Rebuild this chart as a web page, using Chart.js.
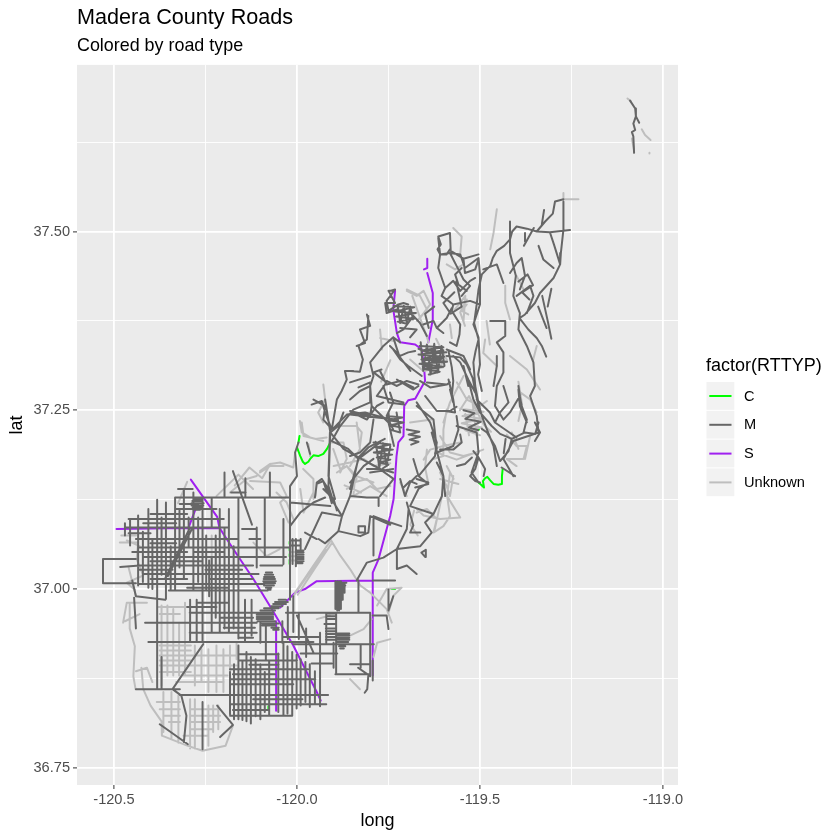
<!DOCTYPE html>
<html><head><meta charset="utf-8">
<style>html,body{margin:0;padding:0;background:#fff}canvas{display:block}</style>
<script src="https://cdn.jsdelivr.net/npm/chart.js@4/dist/chart.umd.min.js"></script>
</head><body><canvas id="c" width="840" height="840"></canvas>
<script>
const chartTitle="Madera County Roads", chartSubtitle="Colored by road type";
const xTicks=[-120.5,-120.25,-120,-119.75,-119.5,-119.25,-119];
const yTicks=[36.75,36.875,37,37.125,37.25,37.375,37.5,37.625];
const roadTypes=["C","M","S","Unknown"];
// Each road: flat list long,lat,long,lat...
const roadsC=[
[-119.504,37.149,-119.497,37.146,-119.489,37.142,-119.492,37.151,-119.486,37.155,-119.480,37.157,-119.472,37.152,-119.463,37.147,-119.450,37.146,-119.441,37.147,-119.440,37.158,-119.438,37.168],
[-119.507,37.226,-119.503,37.223],
[-119.993,37.214,-119.996,37.205],
[-120.000,37.198,-119.991,37.186,-119.984,37.178,-119.978,37.175,-119.969,37.178,-119.964,37.182,-119.955,37.187,-119.942,37.186,-119.928,37.189,-119.918,37.196,-119.911,37.203],
[-120.020,37.066,-120.020,37.063],[-120.020,37.058,-120.020,37.054],[-120.020,37.049,-120.020,37.046],[-120.020,37.041,-120.020,37.035],
[-119.741,37.000,-119.732,37.000],[-120.078,36.836,-120.078,36.831]];
const roadsS=[
[-120.290,37.153,-120.218,37.101,-120.212,37.086,-120.201,37.077,-120.165,37.049,-120.119,37.014,-120.069,36.972,-120.010,36.921,-119.946,36.856,-119.935,36.844],
[-120.493,37.084,-120.350,37.085,-120.210,37.085],
[-120.297,37.085,-120.274,37.116],
[-120.057,36.955,-120.057,36.830],
[-120.046,36.974,-120.005,36.995,-119.978,37.000,-119.946,37.011,-119.793,37.012],
[-119.793,36.879,-119.793,37.023,-119.777,37.042,-119.745,37.103,-119.736,37.126,-119.732,37.156,-119.728,37.186,-119.723,37.205,-119.709,37.214,-119.707,37.256,-119.696,37.264,-119.677,37.266,-119.650,37.291],
[-119.650,37.291,-119.653,37.312,-119.659,37.335,-119.677,37.342,-119.718,37.345,-119.727,37.358,-119.737,37.391,-119.732,37.417],
[-119.644,37.462,-119.644,37.449,-119.653,37.447,-119.644,37.449],
[-119.644,37.442,-119.629,37.414,-119.629,37.377,-119.641,37.345]];
// North-south roads: long, lat from, lat to
const roadsM_ns=[
[-120.456,37.098,37.061],[-120.434,37.103,37.005],[-120.406,37.112,37.002],[-120.382,37.125,36.860],[-120.358,37.121,36.986],[-120.333,37.128,36.998],[-120.309,37.140,37.015],[-120.283,37.135,36.998],[-120.258,37.128,36.926],[-120.233,37.128,37.086],[-120.233,37.045,36.939],[-120.211,37.112,36.939],[-120.186,37.112,36.939],[-120.160,37.128,36.931],[-120.198,37.163,37.128],[-120.141,37.155,37.128],[-120.074,37.163,37.128],[-120.088,37.128,37.045],[-120.110,37.086,37.030],[-120.037,37.098,37.035],[-120.019,37.128,36.985],
[-120.470,37.092,37.075],[-120.222,37.075,36.960],[-120.198,37.085,36.945],[-120.173,37.060,36.945],[-120.240,37.040,36.990],[-120.296,37.100,37.060],
[-120.421,37.080,37.010],[-120.395,37.070,37.000],[-120.370,37.100,37.020],[-120.345,37.060,37.000],[-120.321,37.110,37.030],[-120.270,37.100,37.010],[-120.248,37.075,37.000],
[-120.292,36.985,36.926],[-120.274,36.985,36.926],[-120.142,36.985,36.926],[-120.124,36.985,36.935],
[-120.183,36.884,36.825],[-120.172,36.895,36.818],[-120.160,36.921,36.818],[-120.149,36.900,36.817],[-120.138,36.912,36.815],[-120.126,36.905,36.812],[-120.113,36.902,36.822],[-120.100,36.895,36.818],[-120.088,36.884,36.828],[-120.076,36.900,36.823],[-120.051,36.910,36.828],[-120.037,36.926,36.823],[-120.026,36.920,36.826],[-120.013,36.912,36.823],[-120.001,36.908,36.833],[-119.990,36.902,36.837],[-119.977,36.898,36.842],[-119.965,36.895,36.835],[-119.951,36.885,36.840],[-119.937,36.875,36.836],
[-120.100,36.955,36.925],[-120.085,36.950,36.900],[-120.040,36.955,36.925],[-120.025,36.975,36.930],[-120.010,36.990,36.940],[-119.995,36.965,36.930],[-119.975,36.945,36.905],
[-119.937,36.939,36.856],[-119.893,36.967,36.881],[-119.832,37.012,36.967],[-119.826,36.923,36.890],[-119.800,36.967,36.878],[-119.920,36.967,36.925],[-119.900,36.925,36.890],[-119.793,36.900,36.872],
[-120.258,36.842,36.776],[-120.370,36.905,36.860],[-120.003,37.070,37.032],[-120.012,37.070,37.035],[-119.990,37.070,37.056],
[-119.895,37.011,36.972],[-119.890,37.011,36.970],[-119.885,37.011,36.970],[-119.880,37.011,36.972],[-119.875,37.009,36.985],[-119.870,37.007,36.995]];
// East-west roads: lat, long from, long to
const roadsM_ew=[
[37.128,-120.333,-120.019],[37.098,-120.460,-120.200],[37.086,-120.470,-120.190],[37.070,-120.440,-120.160],[37.058,-120.430,-120.150],[37.045,-120.420,-120.140],[37.033,-120.430,-120.120],[37.021,-120.420,-120.105],[37.007,-120.430,-120.090],[36.998,-120.350,-120.080],[37.112,-120.330,-120.220],[37.078,-120.460,-120.400],[37.052,-120.280,-120.200],[37.027,-120.250,-120.150],[37.014,-120.240,-120.120],[37.105,-120.400,-120.300],[37.119,-120.320,-120.270],[37.140,-120.325,-120.285],[37.135,-120.180,-120.140],
[37.092,-120.420,-120.330],[37.064,-120.400,-120.330],[37.052,-120.450,-120.300],[37.039,-120.400,-120.260],[37.027,-120.430,-120.340],[37.014,-120.400,-120.300],[37.002,-120.300,-120.190],[36.975,-120.300,-120.220],
[37.058,-120.150,-120.019],[37.045,-120.140,-120.030],[37.070,-120.130,-120.100],[37.084,-120.150,-120.110],[37.033,-120.100,-120.040],
[36.967,-120.293,-120.105],[36.953,-120.415,-120.110],[36.939,-120.293,-120.110],[36.926,-120.406,-119.955],[36.981,-120.270,-120.190],[36.960,-120.210,-120.120],[36.946,-120.200,-120.115],[36.932,-120.160,-120.120],
[36.900,-120.160,-120.000],[36.888,-120.183,-119.970],[36.874,-120.183,-119.950],[36.860,-120.440,-120.320],[36.852,-120.320,-119.915],[36.839,-120.183,-119.920],[36.823,-120.183,-120.013],[36.881,-120.175,-120.060],[36.867,-120.180,-120.010],[36.846,-120.120,-119.985],[36.909,-120.160,-120.050],[36.894,-120.130,-120.050],[36.831,-120.175,-120.080],
[36.967,-120.030,-119.800],[36.923,-120.010,-119.790],[36.881,-119.895,-119.800],[36.895,-119.855,-119.800],[36.933,-120.040,-119.940],[36.910,-119.990,-119.890],[36.896,-119.960,-119.905],[36.951,-119.925,-119.893],
[37.126,-120.283,-120.262],[37.123,-120.286,-120.258],[37.120,-120.288,-120.255],[37.117,-120.288,-120.256],[37.114,-120.285,-120.260],[37.111,-120.280,-120.265],
[37.023,-120.085,-120.068],[37.020,-120.088,-120.065],[37.017,-120.090,-120.062],[37.014,-120.091,-120.060],[37.011,-120.092,-120.058],[37.008,-120.091,-120.060],[37.005,-120.090,-120.063],[37.002,-120.085,-120.070],[36.999,-120.080,-120.072],
[36.985,-120.050,-120.030],[36.982,-120.060,-120.025],[36.979,-120.065,-120.030],[36.976,-120.070,-120.040],[36.973,-120.090,-120.050],[36.970,-120.100,-120.060],[36.967,-120.105,-120.065],[36.964,-120.110,-120.065],[36.961,-120.110,-120.065],[36.958,-120.110,-120.065],[36.955,-120.108,-120.060],[36.952,-120.100,-120.050],[36.949,-120.095,-120.060],[36.946,-120.070,-120.050],[36.943,-120.065,-120.050],
[36.938,-119.891,-119.857],[36.935,-119.893,-119.857],[36.932,-119.893,-119.857],[36.929,-119.893,-119.857],[36.926,-119.893,-119.860],[36.923,-119.890,-119.862],[36.920,-119.885,-119.868],[36.917,-119.882,-119.872],
[37.054,-120.000,-119.982],[37.051,-120.000,-119.982],[37.048,-120.000,-119.982],[37.045,-120.000,-119.982],[37.042,-120.000,-119.982],[37.039,-120.000,-119.982],[37.036,-120.000,-119.985],[37.068,-120.018,-119.990],[37.061,-120.018,-119.990],
[37.009,-119.895,-119.865],[37.005,-119.895,-119.868],[37.001,-119.895,-119.872],[36.997,-119.895,-119.878],[36.993,-119.895,-119.880],[36.989,-119.895,-119.880],[36.985,-119.895,-119.878],[36.981,-119.893,-119.880],[36.977,-119.892,-119.882],[36.973,-119.892,-119.884],
[36.966,-119.920,-119.893],[36.962,-119.920,-119.893],[36.958,-119.920,-119.893],[36.945,-119.921,-119.893],[36.941,-119.921,-119.893],[36.937,-119.921,-119.893],[36.933,-119.921,-119.893],[36.929,-119.921,-119.893]];
const roadsM=[
[-120.530,37.042,-120.530,37.008,-120.440,37.008],[-120.530,37.042,-120.440,37.042],[-120.483,37.031,-120.430,37.033],
[-120.175,37.165,-120.123,37.090],[-120.293,37.085,-120.360,37.015],[-120.286,37.085,-120.353,37.018],
[-120.256,36.923,-120.340,36.860,-120.316,36.851,-120.302,36.823,-120.309,36.786],[-120.375,36.811,-120.298,36.783],[-120.218,36.837,-120.175,36.810,-120.210,36.793],
[-120.445,36.988,-120.440,36.945],[-120.45,37.012,-120.44,36.990,-120.36,36.985],
[-119.254,37.502,-119.309,37.499,-119.345,37.500,-119.372,37.504,-119.400,37.507,-119.412,37.500,-119.418,37.489,-119.434,37.480,-119.454,37.473,-119.465,37.463,-119.472,37.452,-119.495,37.440,-119.504,37.419,-119.509,37.398,-119.516,37.372,-119.504,37.349,-119.512,37.333,-119.518,37.317,-119.513,37.284,-119.504,37.260,-119.495,37.242,-119.480,37.222,-119.463,37.200,-119.454,37.172],
[-119.345,37.500,-119.309,37.499,-119.298,37.482,-119.281,37.454,-119.299,37.435,-119.336,37.414,-119.350,37.400,-119.377,37.384,-119.392,37.379,-119.368,37.363,-119.345,37.351,-119.331,37.340,-119.319,37.325],
[-119.272,37.545,-119.295,37.542,-119.301,37.525,-119.322,37.514,-119.345,37.500],
[-119.272,37.542,-119.272,37.503,-119.279,37.470,-119.281,37.454],
[-119.340,37.480,-119.327,37.461,-119.299,37.449],[-119.325,37.530,-119.331,37.510],[-119.353,37.505,-119.380,37.480],
[-119.418,37.514,-119.418,37.470,-119.402,37.438,-119.409,37.410,-119.391,37.386,-119.395,37.363,-119.372,37.340,-119.354,37.317,-119.350,37.284,-119.363,37.270,-119.345,37.242,-119.340,37.219,-119.368,37.214,-119.409,37.207,-119.436,37.182,-119.409,37.158],
[-119.472,37.375,-119.431,37.375,-119.431,37.354,-119.454,37.345,-119.436,37.331,-119.436,37.303,-119.454,37.284,-119.459,37.256,-119.436,37.237,-119.418,37.247,-119.391,37.270,-119.395,37.284],
[-119.614,37.491,-119.609,37.468,-119.582,37.470,-119.554,37.468,-119.541,37.449,-119.504,37.463,-119.500,37.440,-119.500,37.398,-119.518,37.370,-119.504,37.352,-119.500,37.314,-119.505,37.300,-119.495,37.277],
[-119.614,37.493,-119.582,37.498,-119.580,37.473,-119.545,37.462,-119.504,37.468],
[-119.609,37.468,-119.614,37.449,-119.595,37.421,-119.573,37.431,-119.554,37.417,-119.527,37.431,-119.513,37.435],
[-119.595,37.421,-119.605,37.410,-119.573,37.398,-119.577,37.389,-119.554,37.370,-119.556,37.356,-119.564,37.340,-119.582,37.345],
[-119.550,37.449,-119.568,37.440,-119.559,37.426,-119.536,37.417],[-119.573,37.398,-119.527,37.403,-119.500,37.398],
[-119.618,37.365,-119.591,37.379,-119.577,37.393],[-119.655,37.370,-119.627,37.375,-119.618,37.365,-119.600,37.358],
[-119.586,37.333,-119.577,37.310,-119.573,37.291,-119.577,37.270,-119.573,37.261],[-119.591,37.326,-119.554,37.324,-119.536,37.314,-119.520,37.295,-119.513,37.277,-119.500,37.247],
[-119.746,37.417,-119.732,37.419,-119.755,37.403,-119.750,37.389,-119.723,37.398,-119.709,37.400,-119.696,37.398],
[-119.746,37.340,-119.718,37.326,-119.696,37.331,-119.677,37.333],[-119.718,37.365,-119.673,37.363,-119.691,37.352],
[-119.773,37.305,-119.755,37.286,-119.718,37.291,-119.682,37.282],[-119.664,37.291,-119.636,37.282,-119.591,37.286],
[-119.855,37.305,-119.828,37.304,-119.820,37.321,-119.832,37.340,-119.809,37.349,-119.805,37.382],
[-119.800,37.317,-119.764,37.340,-119.737,37.352,-119.718,37.345],[-119.737,37.352,-119.720,37.325,-119.690,37.305],
[-119.800,37.317,-119.791,37.298,-119.800,37.284,-119.828,37.277,-119.855,37.265],
[-119.800,37.284,-119.796,37.256,-119.800,37.242,-119.855,37.249],[-119.796,37.256,-119.750,37.233,-119.735,37.200],
[-119.764,37.284,-119.750,37.261,-119.707,37.258],[-119.727,37.293,-119.682,37.279,-119.668,37.284],
[-119.650,37.270,-119.618,37.249,-119.582,37.249,-119.564,37.255],
[-119.673,37.261,-119.636,37.233,-119.618,37.205,-119.623,37.186,-119.668,37.158,-119.641,37.147,-119.677,37.142],
[-119.623,37.190,-119.573,37.200,-119.559,37.223,-119.564,37.242],[-119.618,37.177,-119.600,37.158,-119.595,37.130],
[-119.564,37.228,-119.509,37.219,-119.504,37.191,-119.523,37.163,-119.504,37.149],
[-119.923,37.265,-119.909,37.219,-119.914,37.144,-119.900,37.121,-119.877,37.102,-119.887,37.081,-119.923,37.064,-119.941,37.070],
[-120.019,37.088,-119.991,37.107,-119.955,37.121,-119.923,37.128],[-119.978,37.056,-119.932,37.107,-119.877,37.102],
[-119.887,37.081,-119.827,37.074,-119.805,37.079,-119.800,37.102,-119.745,37.090],
[-119.877,37.102,-119.855,37.130,-119.809,37.128,-119.777,37.128,-119.777,37.116],
[-119.855,37.130,-119.832,37.184,-119.805,37.198,-119.760,37.210],[-119.909,37.219,-119.873,37.196,-119.832,37.184],
[-119.900,37.225,-119.864,37.244,-119.814,37.247,-119.745,37.237],
[-120.019,37.126,-120.019,37.144,-120.000,37.158,-120.005,37.191,-119.996,37.205],[-120.019,37.121,-119.909,37.116],
[-119.950,37.130,-119.946,37.149,-119.932,37.154,-119.917,37.142,-119.905,37.120],
[-119.837,37.012,-119.809,37.037,-119.764,37.044,-119.727,37.056,-119.700,37.084,-119.695,37.112,-119.700,37.121],
[-119.791,37.047,-119.791,37.098],[-119.791,37.102,-119.745,37.093,-119.715,37.088],
[-119.727,37.056,-119.663,37.060,-119.632,37.079,-119.650,37.093,-119.627,37.105,-119.691,37.116,-119.668,37.140,-119.641,37.149,-119.673,37.154],
[-119.632,37.219,-119.618,37.193,-119.600,37.158,-119.604,37.130,-119.627,37.105],
[-119.727,37.056,-119.727,37.028,-119.700,37.033,-119.673,37.021],[-119.793,37.012,-119.732,37.012],
[-119.750,36.999,-119.750,36.970,-119.737,36.990],[-119.793,36.963,-119.755,36.963,-119.750,36.944],
[-120.000,36.963,-119.955,36.911],[-119.833,36.890,-119.805,36.880,-119.808,36.860,-119.815,36.855],
[-119.660,37.051,-119.650,37.045,-119.648,37.055,-119.660,37.051],
[-119.614,37.493,-119.607,37.482,-119.616,37.475,-119.609,37.468,-119.591,37.468,-119.582,37.475],
[-119.545,37.461,-119.541,37.442,-119.513,37.447,-119.504,37.461],
[-119.582,37.470,-119.564,37.452,-119.545,37.433,-119.527,37.424,-119.550,37.410],
[-119.809,37.384,-119.800,37.368,-119.828,37.363,-119.814,37.344,-119.837,37.340],
[-119.737,37.417,-119.750,37.417,-119.732,37.400,-119.759,37.400,-119.755,37.386,-119.727,37.391],
[-119.727,37.358,-119.709,37.363,-119.682,37.382,-119.664,37.372,-119.645,37.354],
[-119.737,37.335,-119.718,37.321,-119.696,37.312,-119.659,37.298],
[-119.591,37.335,-119.545,37.326,-119.527,37.307],
[-119.573,37.326,-119.554,37.317,-119.532,37.293,-119.513,37.275],
[-119.645,37.289,-119.591,37.286,-119.582,37.289],[-119.582,37.279,-119.573,37.261],
[-119.855,37.289,-119.800,37.298],
[-119.746,37.275,-119.737,37.261,-119.755,37.242,-119.737,37.223],
[-119.855,37.186,-119.828,37.191,-119.800,37.205,-119.791,37.237],
[-119.855,37.149,-119.818,37.172,-119.791,37.182],[-119.800,37.163,-119.737,37.168],
[-119.718,37.154,-119.705,37.130,-119.691,37.149,-119.673,37.158],
[-119.454,37.326,-119.454,37.312,-119.463,37.284],
[-119.509,37.265,-119.473,37.247,-119.459,37.233,-119.400,37.212],
[-119.395,37.279,-119.391,37.256,-119.372,37.233],[-119.350,37.233,-119.336,37.219,-119.350,37.207],
[-119.418,37.442,-119.400,37.456,-119.386,37.463,-119.377,37.438,-119.391,37.419],
[-119.377,37.498,-119.377,37.486],[-119.491,37.447,-119.454,37.454,-119.436,37.428],
[-119.400,37.410,-119.363,37.424,-119.354,37.410,-119.372,37.386],[-119.545,37.312,-119.532,37.284],
[-119.955,37.265,-119.923,37.256,-119.928,37.237,-119.909,37.226],[-119.873,37.247,-119.887,37.228,-119.909,37.219],
[-119.850,37.247,-119.809,37.237,-119.782,37.256,-119.764,37.261],
[-119.832,37.184,-119.780,37.170,-119.736,37.154,-119.773,37.130],
[-119.673,37.256,-119.627,37.237,-119.618,37.196],[-119.682,37.182,-119.668,37.158],
[-119.695,37.112,-119.682,37.089,-119.691,37.079,-119.663,37.079],
[-119.978,37.079,-119.946,37.070],[-119.928,37.140,-119.900,37.126,-119.891,37.110],
[-119.832,37.088,-119.814,37.088,-119.814,37.079,-119.832,37.079,-119.832,37.088],
// traced from central close-ups
[-119.960,37.258,-119.932,37.263,-119.923,37.247,-119.905,37.223],
[-119.905,37.223,-119.891,37.265,-119.878,37.277,-119.864,37.293,-119.869,37.305,-119.846,37.305],
[-119.905,37.207,-119.882,37.228,-119.846,37.251,-119.800,37.261,-119.800,37.289,-119.832,37.282],
[-119.855,37.244,-119.819,37.242,-119.782,37.240,-119.728,37.237],
[-119.905,37.207,-119.860,37.196,-119.832,37.182,-119.796,37.196,-119.773,37.205],
[-119.832,37.182,-119.855,37.140],[-119.910,37.219,-119.914,37.158,-119.896,37.126],
[-119.973,37.205,-119.964,37.189],[-119.951,37.128,-119.946,37.147,-119.928,37.151,-119.919,37.137,-119.910,37.130],
[-119.809,37.168,-119.773,37.168,-119.737,37.163],[-119.709,37.142,-119.691,37.151,-119.673,37.147],
[-119.709,37.261,-119.782,37.270,-119.755,37.289,-119.791,37.303,-119.769,37.307],
[-119.755,37.291,-119.728,37.284,-119.700,37.291,-119.668,37.286],
[-119.750,37.247,-119.746,37.223,-119.718,37.219,-119.728,37.247],
[-119.586,37.293,-119.573,37.265,-119.568,37.247,-119.595,37.249],
[-119.532,37.293,-119.518,37.265,-119.500,37.247,-119.468,37.228,-119.445,37.217,-119.413,37.210,-119.377,37.219,-119.349,37.217,-119.340,37.233],
[-119.436,37.284,-119.422,37.261,-119.445,37.247,-119.459,37.233],
[-119.395,37.279,-119.386,37.256,-119.372,37.237,-119.381,37.219],
[-119.413,37.210,-119.422,37.193,-119.445,37.179,-119.459,37.200,-119.481,37.219,-119.495,37.224],
[-119.441,37.170,-119.404,37.158],
[-119.518,37.193,-119.504,37.184,-119.513,37.168,-119.527,37.158,-119.513,37.151,-119.500,37.149],
[-119.504,37.184,-119.486,37.168,-119.490,37.158],
[-119.609,37.195,-119.573,37.195,-119.550,37.205,-119.554,37.216],[-119.563,37.172,-119.541,37.175,-119.522,37.184],
// dense mountain clusters
[-119.665,37.340,-119.600,37.338,-119.655,37.334,-119.592,37.331,-119.668,37.328,-119.598,37.325,-119.660,37.321,-119.590,37.318,-119.665,37.315,-119.600,37.311,-119.655,37.308,-119.610,37.304,-119.640,37.300],
[-119.662,37.345,-119.655,37.305,-119.645,37.342,-119.635,37.300,-119.625,37.343,-119.615,37.303,-119.605,37.340,-119.597,37.312],
[-119.668,37.336,-119.640,37.330,-119.600,37.334,-119.650,37.322,-119.605,37.322,-119.650,37.312,-119.615,37.308],
[-119.736,37.396,-119.680,37.394,-119.733,37.388,-119.675,37.386,-119.730,37.381,-119.680,37.378,-119.725,37.374,-119.700,37.371],
[-119.725,37.397,-119.718,37.372,-119.708,37.396,-119.700,37.373,-119.690,37.395,-119.683,37.377],
[-119.791,37.205,-119.745,37.202,-119.785,37.198,-119.738,37.195,-119.790,37.191,-119.740,37.188,-119.782,37.184,-119.745,37.181,-119.775,37.177,-119.750,37.174,-119.765,37.169],
[-119.785,37.206,-119.775,37.170,-119.765,37.204,-119.755,37.172,-119.745,37.200],
[-119.700,37.223,-119.666,37.220,-119.695,37.216,-119.664,37.213,-119.692,37.209,-119.668,37.206,-119.688,37.202],
[-119.755,37.242,-119.712,37.240,-119.750,37.236,-119.709,37.233,-119.745,37.229,-119.715,37.226],
[-119.545,37.250,-119.515,37.246,-119.540,37.238,-119.498,37.234,-119.530,37.226,-119.505,37.222],
[-119.435,37.190,-119.430,37.210],[-119.395,37.430,-119.370,37.440,-119.355,37.425,-119.385,37.415,-119.365,37.405],
[-119.330,37.410,-119.315,37.375,-119.305,37.350],[-119.341,37.395,-119.318,37.365],[-119.305,37.420,-119.315,37.395],
[-119.570,37.415,-119.600,37.400,-119.580,37.385,-119.550,37.395,-119.565,37.430],[-119.625,37.395,-119.650,37.385,-119.640,37.365],
[-119.090,37.683,-119.076,37.672,-119.074,37.661,-119.065,37.652],[-119.074,37.661,-119.081,37.651,-119.076,37.642,-119.085,37.639,-119.081,37.633,-119.079,37.610]];
const roadsU_ns=[
[-120.370,36.977,36.865],[-120.354,36.977,36.879],[-120.338,36.972,36.879],[-120.322,36.953,36.879],[-120.306,36.981,36.879],[-120.279,36.921,36.865],[-120.261,36.916,36.870],[-120.242,36.916,36.856],[-120.220,36.921,36.856],[-120.201,36.916,36.856],[-120.183,36.921,36.884],[-120.165,36.926,36.902],
[-120.292,36.846,36.777],[-120.279,36.846,36.777],[-120.242,36.837,36.781],[-120.229,36.837,36.800],[-120.215,36.837,36.804],[-120.365,36.856,36.800],[-120.343,36.856,36.791],[-120.324,36.851,36.785],[-120.233,37.075,37.020],[-120.221,37.060,37.000]];
const roadsU_ew=[
[36.921,-120.375,-120.290],[36.914,-120.375,-120.290],[36.907,-120.375,-120.290],[36.900,-120.375,-120.290],[36.893,-120.375,-120.290],[36.884,-120.375,-120.290],
[36.907,-120.292,-120.165],[36.893,-120.292,-120.165],[36.879,-120.310,-120.190],[36.870,-120.330,-120.200],
[36.842,-120.383,-120.320],[36.832,-120.375,-120.320],[36.823,-120.365,-120.320],[36.814,-120.350,-120.320],
[36.832,-120.292,-120.210],[36.823,-120.292,-120.210],[36.814,-120.292,-120.210],[36.804,-120.292,-120.230],[36.795,-120.310,-120.245],
[36.975,-120.380,-120.300],[36.965,-120.375,-120.320],[37.075,-120.480,-120.440],[37.052,-120.020,-120.000],[37.046,-120.020,-120.000],[37.040,-120.020,-120.000]];
const roadsU=[
[-120.475,36.953,-120.465,36.981,-120.410,36.981],[-120.457,36.979,-120.457,36.945,-120.443,36.920,-120.447,36.878,-120.441,36.860],[-120.425,36.890,-120.420,36.860,-120.400,36.837,-120.370,36.815,-120.369,36.795,-120.300,36.781,-120.258,36.774,-120.195,36.781,-120.175,36.809],
[-120.440,36.885,-120.410,36.890,-120.395,36.870],[-120.470,36.955,-120.430,36.965],[-120.460,37.030,-120.445,37.000,-120.440,36.990],[-120.465,37.068,-120.430,37.060],
[-120.484,37.065,-120.434,37.065,-120.438,37.042,-120.420,37.019,-120.465,37.009,-120.443,36.999],
[-120.300,37.150,-120.325,37.120],[-120.170,37.145,-120.130,37.170,-120.095,37.155,-120.073,37.175],[-120.220,37.130,-120.160,37.160,-120.120,37.140],
[-120.183,37.135,-120.138,37.154,-120.110,37.158],[-120.101,37.163,-120.074,37.172,-120.037,37.172],[-120.056,37.135,-120.028,37.121,-120.010,37.098],[-120.119,37.065,-120.083,37.046,-120.047,37.056],
[-120.101,37.165,-120.073,37.175,-120.046,37.177,-120.010,37.170,-120.005,37.191],
[-119.987,37.233,-119.982,37.214,-119.950,37.210,-119.919,37.212],[-119.969,37.203,-119.964,37.186],
[-120.128,37.151,-120.046,37.149,-120.028,37.130,-120.046,37.121,-120.023,37.093],
[-119.991,37.140,-119.982,37.107,-119.955,37.135],[-119.900,37.172,-119.855,37.177,-119.818,37.182],[-119.882,37.163,-119.864,37.182,-119.873,37.205],
[-119.891,37.163,-119.864,37.172,-119.837,37.154,-119.846,37.144,-119.864,37.140],[-119.909,37.205,-119.873,37.205],[-119.718,37.149,-119.700,37.130],
[-119.846,37.149,-119.809,37.154,-119.782,37.140,-119.745,37.144],[-119.818,37.182,-119.790,37.172,-119.745,37.176],[-119.870,37.145,-119.825,37.135],
[-119.673,37.112,-119.654,37.103,-119.609,37.098,-119.554,37.100],[-119.645,37.195,-119.650,37.170,-119.642,37.150],[-119.582,37.162,-119.590,37.130,-119.554,37.100],[-119.604,37.130,-119.625,37.080],[-119.680,37.110,-119.690,37.090,-119.670,37.075],
[-119.673,37.107,-119.645,37.112,-119.618,37.098,-119.627,37.079,-119.600,37.088,-119.582,37.102,-119.591,37.135],[-119.572,37.154,-119.591,37.172],[-119.654,37.181,-119.636,37.195,-119.600,37.200,-119.554,37.205],
[-120.005,36.995,-119.955,37.033,-119.909,37.067],[-119.998,36.992,-119.950,37.030,-119.905,37.064],[-120.010,36.990,-119.960,37.027,-119.920,37.055],
[-119.909,37.070,-119.882,37.047,-119.855,37.028,-119.827,37.005,-119.800,36.995,-119.755,36.972,-119.741,36.953],
[-119.855,36.935,-119.818,36.944,-119.796,36.958],[-119.781,36.977,-119.755,37.000,-119.714,37.002,-119.736,36.991,-119.750,36.967],
[-119.946,36.958,-119.910,36.963],[-119.745,36.930,-119.781,36.925,-119.791,36.905],[-119.855,36.874,-119.828,36.860],
[-119.454,37.531,-119.463,37.498,-119.472,37.475],[-119.573,37.505,-119.550,37.493,-119.554,37.468],[-119.272,37.554,-119.272,37.545,-119.231,37.545],
[-119.431,37.424,-119.431,37.400,-119.418,37.377],[-119.486,37.349,-119.491,37.330,-119.454,37.312],[-119.418,37.326,-119.372,37.307,-119.336,37.279],[-119.395,37.290,-119.385,37.258,-119.395,37.235],
[-119.700,37.419,-119.664,37.410,-119.645,37.391,-119.672,37.375],[-119.591,37.251,-119.600,37.223,-119.600,37.186,-119.627,37.182],[-119.618,37.191,-119.564,37.181,-119.491,37.195],
[-119.427,37.216,-119.400,37.200,-119.372,37.200,-119.381,37.182,-119.427,37.182,-119.400,37.172],[-119.773,37.363,-119.768,37.335],[-119.691,37.233,-119.632,37.237],
[-119.837,37.233,-119.828,37.196,-119.855,37.172],[-119.609,37.154,-119.559,37.147],[-119.570,37.390,-119.540,37.410,-119.545,37.375],
[-119.555,37.250,-119.530,37.270,-119.490,37.230,-119.470,37.220],[-119.540,37.245,-119.530,37.215],[-119.520,37.260,-119.510,37.215],
[-119.536,37.405,-119.554,37.387,-119.541,37.368],[-119.400,37.438,-119.381,37.419],[-119.600,37.233,-119.582,37.261,-119.545,37.298],
[-119.345,37.340,-119.355,37.320],[-119.620,37.350,-119.590,37.320,-119.630,37.305],[-119.685,37.410,-119.640,37.345],[-119.770,37.290,-119.745,37.320],
[-119.700,37.417,-119.673,37.410,-119.654,37.417,-119.636,37.398,-119.664,37.379],[-119.591,37.454,-119.568,37.447,-119.545,37.454],[-119.536,37.398,-119.550,37.389,-119.532,37.384],[-119.582,37.370,-119.577,37.351],[-119.482,37.375,-119.473,37.342],[-119.773,37.351,-119.736,37.347],[-119.691,37.321,-119.655,37.305,-119.600,37.310],
[-119.928,37.286,-119.923,37.265,-119.942,37.247,-119.928,37.233],[-119.992,37.235,-119.987,37.219,-119.964,37.212,-119.928,37.207],[-119.983,37.168,-119.955,37.154,-119.955,37.126],[-119.901,37.196,-119.882,37.168,-119.864,37.172,-119.837,37.158,-119.791,37.149],[-119.891,37.228,-119.837,37.228,-119.823,37.219,-119.828,37.200],[-119.841,37.158,-119.846,37.130,-119.800,37.144,-119.755,37.130],
[-119.563,37.289,-119.536,37.265,-119.500,37.256,-119.481,37.263],[-119.609,37.163,-119.591,37.144,-119.582,37.130,-119.573,37.158],[-119.609,37.214,-119.582,37.191,-119.545,37.186,-119.509,37.191],[-119.363,37.214,-119.377,37.182],[-119.413,37.219,-119.395,37.196],[-119.390,37.275,-119.363,37.265,-119.345,37.247],
[-119.554,37.252,-119.490,37.248,-119.548,37.242,-119.492,37.238,-119.550,37.232,-119.495,37.226,-119.540,37.222,-119.500,37.215],
[-119.097,37.686,-119.088,37.682],[-119.058,37.643,-119.049,37.635,-119.034,37.628],[-119.085,37.630,-119.079,37.614],[-119.037,37.610,-119.037,37.609]];

const typeColors=["#00ff00","#666666","#a020f0","#bebebe"];
function polyPts(list){const p=[];list.forEach(r=>{for(let i=0;i<r.length;i+=2)p.push({x:r[i],y:r[i+1]});p.push({x:NaN,y:NaN});});return p;}
function nsPts(list){const p=[];list.forEach(r=>{p.push({x:r[0],y:r[1]},{x:r[0],y:r[2]},{x:NaN,y:NaN});});return p;}
function ewPts(list){const p=[];list.forEach(r=>{p.push({x:r[1],y:r[0]},{x:r[2],y:r[0]},{x:NaN,y:NaN});});return p;}
const series={C:polyPts(roadsC),M:[...nsPts(roadsM_ns),...ewPts(roadsM_ew),...polyPts(roadsM)],S:polyPts(roadsS),Unknown:[...nsPts(roadsU_ns),...ewPts(roadsU_ew),...polyPts(roadsU)]};
const drawOrder=[1,3,2,0];
const datasets=drawOrder.map(i=>({label:roadTypes[i],data:series[roadTypes[i]],showLine:true,borderColor:typeColors[i],backgroundColor:typeColors[i],borderWidth:2,pointRadius:0,tension:0,spanGaps:false,borderJoinStyle:'round',borderCapStyle:'round'}));
const FONT="'Liberation Sans', Arial, sans-serif";
const panel={id:'panel',beforeDraw(c){const a=c.chartArea,x=c.ctx;x.save();x.fillStyle='#ebebeb';x.fillRect(a.left,a.top,a.right-a.left,a.bottom-a.top);x.restore();}};
const ggLegend={id:'ggLegend',afterDraw(c){const x=c.ctx;x.save();x.fillStyle='#000';x.font='18px '+FONT;x.textBaseline='middle';x.textAlign='left';x.fillText('factor(RTTYP)',706,366);
 roadTypes.forEach((t,i)=>{const top=382+i*28.8;x.fillStyle='#f2f2f2';x.fillRect(706.5,top,27.8,27.8);x.strokeStyle=typeColors[i];x.lineWidth=2;x.beginPath();x.moveTo(709.3,top+14);x.lineTo(731.5,top+14);x.stroke();x.fillStyle='#000';x.font='14.6px '+FONT;x.fillText(t,744,top+14.5);});x.restore();}};
new Chart(document.getElementById('c'),{type:'scatter',data:{datasets},plugins:[panel,ggLegend],options:{responsive:false,animation:false,devicePixelRatio:1,
 layout:{padding:{left:0,right:162,top:0,bottom:0}},
 plugins:{legend:{display:false},tooltip:{enabled:false},
  title:{display:true,text:chartTitle,align:'start',fullSize:false,color:'#000',font:{family:FONT,size:21.6,weight:'normal'},padding:{top:5,bottom:4}},
  subtitle:{display:true,text:chartSubtitle,align:'start',fullSize:false,color:'#000',font:{family:FONT,size:17.9,weight:'normal'},padding:{top:0,bottom:8.5}}},
 scales:{
  x:{type:'linear',min:-120.601,max:-118.959,afterBuildTicks(s){s.ticks=xTicks.map(v=>({value:v}));},afterFit(s){s.height=55;},
   grid:{color:'#fff',lineWidth:c=>xTicks.indexOf(c.tick.value)%2===0?1.8:0.9,drawTicks:true,tickLength:4,tickColor:c=>xTicks.indexOf(c.tick.value)%2===0?'#333':'rgba(0,0,0,0)',tickWidth:1},border:{display:false},
   ticks:{autoSkip:false,maxRotation:0,color:'#4d4d4d',padding:2,font:{family:FONT,size:14.6},callback:v=>xTicks.indexOf(v)%2===0?v.toFixed(1):''},
   title:{display:true,text:'long',color:'#000',font:{family:FONT,size:18},padding:{top:0,bottom:8}}},
  y:{type:'linear',min:36.726,max:37.733,afterBuildTicks(s){s.ticks=yTicks.map(v=>({value:v}));},afterFit(s){s.width=77;},
   grid:{color:'#fff',lineWidth:c=>yTicks.indexOf(c.tick.value)%2===0?1.8:0.9,drawTicks:true,tickLength:4,tickColor:c=>yTicks.indexOf(c.tick.value)%2===0?'#333':'rgba(0,0,0,0)',tickWidth:1},border:{display:false},
   ticks:{autoSkip:false,color:'#4d4d4d',padding:3,font:{family:FONT,size:14.6},callback:v=>yTicks.indexOf(v)%2===0?v.toFixed(2):''},
   title:{display:true,text:'lat',color:'#000',font:{family:FONT,size:18},padding:{top:6,bottom:0}}}
 }}});
</script></body></html>
